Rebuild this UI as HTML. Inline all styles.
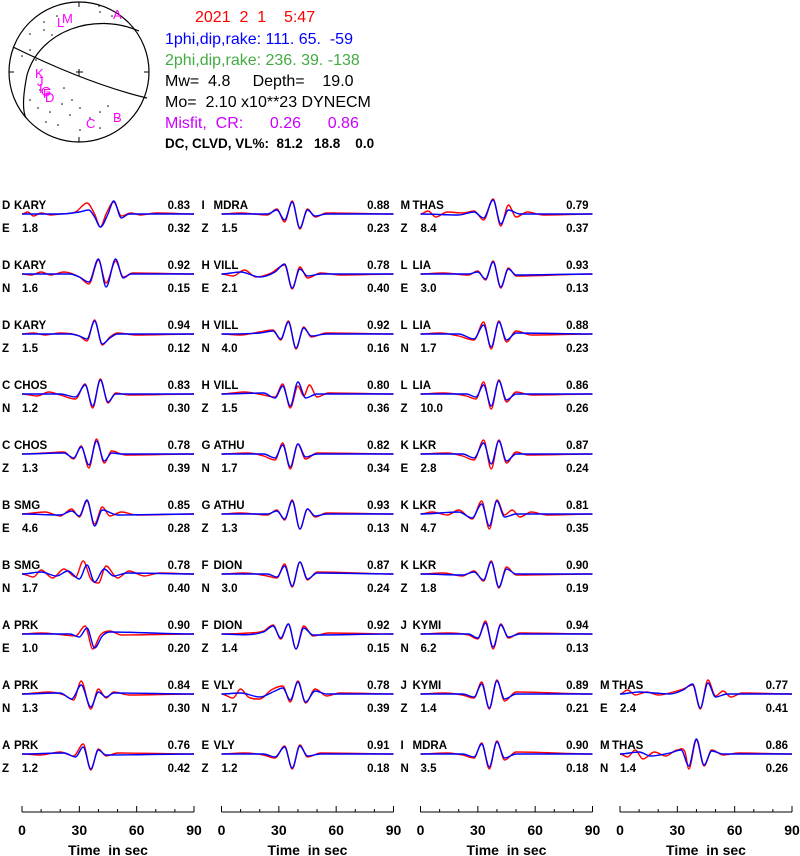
<!DOCTYPE html>
<html><head><meta charset="utf-8">
<style>
html,body{margin:0;padding:0;background:#fff;}
svg{display:block;font-family:"Liberation Sans",Arial,sans-serif;}
text{white-space:pre;}
</style></head>
<body>
<svg id="fig" width="800" height="856" viewBox="0 0 800 856" xml:space="preserve">
  <g>
    <circle cx="79" cy="72" r="70" fill="none" stroke="#000" stroke-width="1.2"/>
    <path d="M13,47 C60,70 105,88 147,98" fill="none" stroke="#000" stroke-width="1.2"/>
    <path d="M139,31 C95,12 40,30 27,75 C22,100 23,112 26,118" fill="none" stroke="#000" stroke-width="1.2"/>
    <path d="M79,2 v5 M79,137 v5 M9,72 h5 M144,72 h5 M76,72 h7 M79,69 v7" stroke="#000" stroke-width="1"/>
    <g fill="#000">
      <circle cx="30" cy="34" r="0.8"/><circle cx="44" cy="30" r="0.8"/><circle cx="44" cy="22" r="0.8"/><circle cx="57" cy="16" r="0.8"/><circle cx="100" cy="12" r="0.8"/><circle cx="112" cy="16" r="0.8"/><circle cx="99" cy="6" r="0.8"/><circle cx="30" cy="50" r="0.8"/><circle cx="22" cy="56" r="0.8"/><circle cx="36" cy="60" r="0.8"/><circle cx="52" cy="35" r="0.8"/>
      <circle cx="30" cy="100" r="0.8"/><circle cx="38" cy="108" r="0.8"/><circle cx="50" cy="112" r="0.8"/><circle cx="62" cy="104" r="0.8"/><circle cx="72" cy="100" r="0.8"/><circle cx="70" cy="115" r="0.8"/><circle cx="80" cy="108" r="0.8"/><circle cx="90" cy="118" r="0.8"/><circle cx="100" cy="112" r="0.8"/><circle cx="108" cy="106" r="0.8"/><circle cx="58" cy="125" r="0.8"/><circle cx="46" cy="122" r="0.8"/><circle cx="80" cy="130" r="0.8"/><circle cx="100" cy="128" r="0.8"/><circle cx="118" cy="118" r="0.8"/><circle cx="64" cy="88" r="0.8"/><circle cx="40" cy="90" r="0.8"/>
    </g>
    <g fill="#ff00ff" font-size="13">
      <text x="57" y="27">L</text><text x="62" y="23">M</text><text x="113" y="19">A</text>
      <text x="35" y="78">K</text><text x="37" y="86">J</text><text x="39" y="93">I</text><text x="41" y="96">G</text><text x="43" y="98">F</text><text x="45" y="102">D</text>
      <text x="86" y="128">C</text><text x="113" y="122">B</text>
    </g>
  </g>
  <g font-size="16">
    <text x="195" y="22" fill="#ff0000">2021  2  1    5:47</text>
    <text x="165" y="44" fill="#0000ff">1phi,dip,rake: 111. 65.  -59</text>
    <text x="165" y="65" fill="#44aa44">2phi,dip,rake: 236. 39. -138</text>
    <text x="165" y="86" fill="#000">Mw=  4.8     Depth=    19.0</text>
    <text x="165" y="107" fill="#000">Mo=  2.10 x10**23 DYNECM</text>
    <text x="165" y="128" fill="#cc00ff">Misfit,  CR:      0.26      0.86</text>
    <text x="165" y="148" fill="#000" font-size="13.5" font-weight="bold">DC, CLVD, VL%:  81.2   18.8    0.0</text>
  </g>
  <g id="panels"></g>
  <g id="axes"></g>
</svg>
<script>
const stations = ["KARY","KARY","KARY","CHOS","CHOS","SMG","SMG","PRK","PRK","PRK",
 "MDRA","VILL","VILL","VILL","ATHU","ATHU","DION","DION","VLY","VLY",
 "THAS","LIA","LIA","LIA","LKR","LKR","LKR","KYMI","KYMI","MDRA",
 "THAS","THAS"];
const codes = ["D","D","D","C","C","B","B","A","A","A","I","H","H","H","G","G","F","F","E","E",
 "M","L","L","L","K","K","K","J","J","I","M","M"];
const comps = ["E","N","Z","N","Z","E","N","E","N","Z","Z","E","N","Z","N","Z","N","Z","N","Z",
 "Z","E","N","Z","E","N","Z","N","Z","N","E","N"];
const leftVals = ["1.8","1.6","1.5","1.2","1.3","4.6","1.7","1.0","1.3","1.2","1.5","2.1","4.0","1.5","1.7","1.3","3.0","1.4","1.7","1.2",
 "8.4","3.0","1.7","10.0","2.8","4.7","1.8","6.2","1.4","3.5","2.4","1.4"];
const topVals = ["0.83","0.92","0.94","0.83","0.78","0.85","0.78","0.90","0.84","0.76","0.88","0.78","0.92","0.80","0.82","0.93","0.87","0.92","0.78","0.91",
 "0.79","0.93","0.88","0.86","0.87","0.81","0.90","0.94","0.89","0.90","0.77","0.86"];
const botVals = ["0.32","0.15","0.12","0.30","0.39","0.28","0.40","0.20","0.30","0.42","0.23","0.40","0.16","0.36","0.34","0.13","0.24","0.15","0.39","0.18",
 "0.37","0.13","0.23","0.26","0.24","0.35","0.19","0.13","0.21","0.18","0.41","0.26"];
const cols = [0,0,0,0,0,0,0,0,0,0,1,1,1,1,1,1,1,1,1,1,2,2,2,2,2,2,2,2,2,2,3,3];
const rows = [0,1,2,3,4,5,6,7,8,9,0,1,2,3,4,5,6,7,8,9,0,1,2,3,4,5,6,7,8,9,8,9];
// synthetic (blue) keypoints: time(s), amplitude
const synPts = [
 [0,0,20,0,30,2,35,4,38,-3,41,-13,45,0,48,13,52,-4,56,0,90,0],
 [0,0,25,0,30,-3,35,-8,40,15,44,-13,49,15,53,-4,57,0,90,0],
 [0,0,25,0,30,-2,34,-5,38,13,42,-10,46,-4,50,0,90,0],
 [0,0,20,0,28,-3,33,9,37,-12,41,14,45,-8,49,0,90,0],
 [0,0,22,1,27,-4,31,7,35,-11,39,13,43,-7,47,1,52,0,90,0],
 [0,0,20,-1,26,3,30,-2,34,14,38,-12,42,4,50,-1,90,0],
 [0,0,10,2,18,-2,24,3,30,-5,34,9,38,-8,43,5,48,-2,55,1,90,0],
 [0,0,25,0,30,-3,34,6,38,-14,42,-2,46,2,90,0],
 [0,0,20,1,26,-5,31,9,36,-13,40,2,44,-3,48,1,90,0],
 [0,0,22,1,28,-3,32,7,36,-15,40,4,44,-1,90,0],
 [0,0,24,0,29,4,33,-6,37,12,41,-14,45,4,49,-2,55,0,90,0],
 [0,0,10,2,20,-3,28,2,33,10,37,-14,41,5,45,-2,52,0,90,0],
 [0,0,20,1,27,3,31,-5,35,12,39,-14,43,6,47,-2,55,0,90,0],
 [0,0,22,1,28,-4,32,8,36,-12,40,12,44,-4,50,0,90,0],
 [0,0,22,0,28,-4,32,9,36,-13,40,10,44,-3,50,0,90,0],
 [0,0,24,0,29,3,33,-5,37,13,41,-15,45,5,49,-2,55,0,90,0],
 [0,0,24,0,29,-3,33,8,37,-12,41,12,45,-5,50,1,90,0],
 [0,0,22,2,27,8,31,-4,35,10,39,-15,43,6,48,-1,90,0],
 [0,0,10,1,20,-3,28,3,32,6,36,-6,40,12,44,-8,49,3,55,0,90,0],
 [0,0,22,0,28,-3,33,7,37,-14,41,8,45,-2,52,0,90,0],
 [0,0,20,-1,28,2,33,-4,38,14,42,-10,46,4,52,0,90,0],
 [0,0,25,0,30,2,34,-5,38,12,42,-13,46,5,50,-1,90,0],
 [0,0,20,0,28,-5,33,9,37,-13,41,12,45,-6,50,1,90,0],
 [0,0,24,0,29,-3,33,9,37,-12,41,13,45,-6,50,0,90,0],
 [0,0,22,0,28,-4,33,11,37,-10,41,13,45,-7,50,0,90,0],
 [0,0,20,2,27,-4,32,10,36,-12,40,13,44,-3,50,0,90,0],
 [0,0,22,-1,28,2,33,-6,37,12,41,-13,45,5,50,0,90,0],
 [0,0,25,0,30,-4,34,11,38,-13,42,9,46,-3,52,0,90,0],
 [0,0,22,0,28,-3,32,10,36,-14,40,13,44,-5,50,0,90,0],
 [0,0,22,0,28,-3,32,10,36,-13,40,12,44,-4,50,0,90,0],
 [0,0,10,2,18,1,26,0,33,4,38,10,42,-14,46,11,50,-3,56,0,90,0],
 [0,0,10,2,16,-2,26,1,32,4,36,-12,40,15,44,-11,48,3,54,0,90,0]
];
// observed (red) keypoints
const obsPts = [
 [0,0,3,2,6,-2,10,1,15,-1,20,0,28,2,34,11,38,0,41,-13,44,0,48,12,52,-2,57,1,62,-1,70,1,90,0],
 [0,0,5,-1,10,2,15,-1,22,2,30,-3,35,-10,40,14,44,-9,49,13,53,-3,58,1,90,0],
 [0,0,6,1,12,-1,20,1,30,-2,34,-7,38,14,42,-11,46,-3,50,1,60,-1,90,0],
 [0,0,8,-2,14,2,20,-1,28,-5,33,10,37,-14,41,15,45,-9,49,1,56,-1,90,0],
 [0,0,12,1,22,2,27,-5,31,8,35,-14,39,15,43,-9,47,3,54,-1,90,0],
 [0,0,12,2,20,-2,26,5,30,-3,34,13,38,-10,42,7,46,-2,52,2,60,-1,90,0],
 [0,0,6,-3,10,4,16,-4,22,5,28,-3,32,13,36,-5,40,-9,44,8,50,-4,56,3,64,-2,72,1,90,0],
 [0,0,10,1,22,-1,28,-2,33,8,37,-15,41,-1,46,3,52,-1,90,0],
 [0,0,14,2,22,-1,27,-6,31,13,36,-15,40,5,44,-4,48,2,56,-1,90,0],
 [0,0,10,-1,20,2,27,-2,32,10,36,-16,40,5,44,-2,50,1,90,0],
 [0,0,10,1,24,-1,29,5,33,-8,37,13,41,-15,45,5,49,-3,55,1,90,0],
 [0,0,6,-2,12,4,18,-3,26,1,33,9,37,-15,41,7,45,-4,52,1,62,-1,90,0],
 [0,0,10,-1,20,2,27,4,31,-6,35,13,39,-15,43,7,47,-3,55,1,90,0],
 [0,0,12,2,22,-1,28,-3,32,10,36,-14,40,8,43,-2,46,9,50,-3,56,1,90,0],
 [0,0,14,1,22,-2,28,-6,32,11,36,-15,40,10,44,-5,50,1,90,0],
 [0,0,10,1,24,-1,29,4,33,-6,37,14,41,-15,45,5,49,-3,55,1,90,0],
 [0,0,12,1,24,-2,29,-4,33,10,37,-13,41,12,45,-6,50,2,90,0],
 [0,0,14,1,22,3,27,9,31,-5,35,10,39,-15,43,8,48,-2,56,1,90,0],
 [0,0,6,-4,10,5,14,-3,20,-5,26,4,32,8,36,-8,40,13,44,-9,49,5,55,-2,62,1,90,0],
 [0,0,12,1,22,-1,28,-4,33,8,37,-15,41,9,45,-3,52,1,90,0],
 [0,0,4,3,8,-3,14,2,22,1,28,3,33,-6,38,15,42,-12,46,9,50,-3,56,2,64,-1,90,0],
 [0,0,12,1,25,-1,30,3,34,-6,38,13,42,-14,46,6,50,-2,90,0],
 [0,0,10,1,20,-2,28,-6,33,12,37,-15,41,13,45,-8,50,3,58,-1,90,0],
 [0,0,12,1,24,-2,29,-5,33,12,37,-15,41,14,45,-8,50,2,58,-1,90,0],
 [0,0,14,1,22,-2,28,-6,33,14,37,-15,41,14,45,-9,50,2,56,-1,90,0],
 [0,0,6,2,14,-1,20,4,27,-5,32,13,36,-15,40,14,44,-1,48,4,52,-3,58,2,66,-1,90,0],
 [0,0,12,1,22,-2,28,3,33,-7,37,13,41,-14,45,7,50,-1,90,0],
 [0,0,14,1,25,-1,30,-5,34,13,38,-15,42,10,46,-4,52,1,90,0],
 [0,0,12,1,22,-1,28,-4,32,12,36,-15,40,14,44,-7,50,2,90,0],
 [0,0,14,1,22,-1,28,-4,32,11,36,-15,40,13,44,-6,50,2,90,0],
 [0,0,4,4,8,-1,14,2,20,-1,26,1,33,5,38,9,42,-15,46,14,50,-2,54,3,58,-3,64,1,90,0],
 [0,0,4,-3,8,4,12,-5,18,2,24,-2,30,4,34,2,36,-15,40,14,44,-12,48,4,54,-1,62,1,90,0]
];
const axisTicks = [0,30,60,90];
const minorTicks = [10,20,40,50,70,80];

const NS = "http://www.w3.org/2000/svg";
const colX0 = [22, 221.5, 420.5, 620];
const PW = 172;
const rowY0 = 214, rowStep = 60;
function xScale(c, t){ return colX0[c] + t/90*PW; }
function yScale(r, a){ return rowY0 + r*rowStep - a; }
function mk(tag, attrs, parent){
  const e = document.createElementNS(NS, tag);
  for (const k in attrs) e.setAttribute(k, attrs[k]);
  parent.appendChild(e); return e;
}
function smoothPath(c, r, arr){
  const p = [];
  for (let i=0;i<arr.length;i+=2) p.push([xScale(c,arr[i]), yScale(r,arr[i+1])]);
  const n = p.length, m = [];
  for (let i=0;i<n;i++){
    if (i===0 || i===n-1) { m.push(0); continue; }
    const s0 = (p[i][1]-p[i-1][1])/(p[i][0]-p[i-1][0]);
    const s1 = (p[i+1][1]-p[i][1])/(p[i+1][0]-p[i][0]);
    m.push(s0*s1 <= 0 ? 0 : (s0+s1)/2);
  }
  let d = "M"+p[0][0].toFixed(1)+","+p[0][1].toFixed(1);
  for (let i=0;i<n-1;i++){
    const dx = (p[i+1][0]-p[i][0])/3;
    const c1x=p[i][0]+dx, c1y=p[i][1]+m[i]*dx;
    const c2x=p[i+1][0]-dx, c2y=p[i+1][1]-m[i+1]*dx;
    d += " C"+c1x.toFixed(1)+","+c1y.toFixed(1)+" "+c2x.toFixed(1)+","+c2y.toFixed(1)+" "+p[i+1][0].toFixed(1)+","+p[i+1][1].toFixed(1);
  }
  return d;
}
const panels = document.getElementById("panels");
for (let i=0;i<stations.length;i++){
  const c = cols[i], r = rows[i], x0 = colX0[c], yc = rowY0 + r*rowStep;
  const g = mk("g", {}, panels);
  
  
  const t0 = mk("text", {x:x0-20, y:yc-5, "font-size":11.5, "font-weight":"bold"}, g);
  t0.textContent = codes[i];
  
  
  const t1 = mk("text", {x:x0-8, y:yc-5, "font-size":11.5, "font-weight":"bold"}, g);
  t1.textContent = stations[i];
  
  
  const t2 = mk("text", {x:x0-20, y:yc+18, "font-size":11.5, "font-weight":"bold"}, g);
  t2.textContent = comps[i];
  
  
  const t3 = mk("text", {x:x0, y:yc+18, "font-size":11.5, "font-weight":"bold"}, g);
  t3.textContent = leftVals[i];
  
  
  const t4 = mk("text", {x:x0+168, y:yc-5, "font-size":11.5, "font-weight":"bold", "text-anchor":"end"}, g);
  t4.textContent = topVals[i];
  
  
  const t5 = mk("text", {x:x0+168, y:yc+18, "font-size":11.5, "font-weight":"bold", "text-anchor":"end"}, g);
  t5.textContent = botVals[i];
  
  
  const o = mk("path", {d:smoothPath(c,r,obsPts[i]), fill:"none", stroke:"#ff0000", "stroke-width":1.4}, g);
  
  
  const s = mk("path", {d:smoothPath(c,r,synPts[i]), fill:"none", stroke:"#0000ff", "stroke-width":1.4}, g);
  
  
}
const axes = document.getElementById("axes");
for (let c=0;c<4;c++){
  const g = mk("g", {}, axes);
  
  
  mk("line", {x1:xScale(c,0), x2:xScale(c,90), y1:812, y2:812, stroke:"#000", "stroke-width":1}, g);
  axisTicks.forEach(t=>{
    mk("line", {x1:xScale(c,t), x2:xScale(c,t), y1:806, y2:812, stroke:"#000", "stroke-width":1}, g);
    const lb = mk("text", {x:xScale(c,t), y:835, "font-size":14, "font-weight":"bold", "text-anchor":"middle"}, g);
    lb.textContent = t;
    
    
  });
  minorTicks.forEach(t=>{
    mk("line", {x1:xScale(c,t), x2:xScale(c,t), y1:809, y2:812, stroke:"#000", "stroke-width":1}, g);
  });
  const tt = mk("text", {x:xScale(c,45), y:855, "font-size":14, "font-weight":"bold", "text-anchor":"middle"}, g);
  tt.textContent = "Time  in sec";
  
  
}
</script>
</body></html>
